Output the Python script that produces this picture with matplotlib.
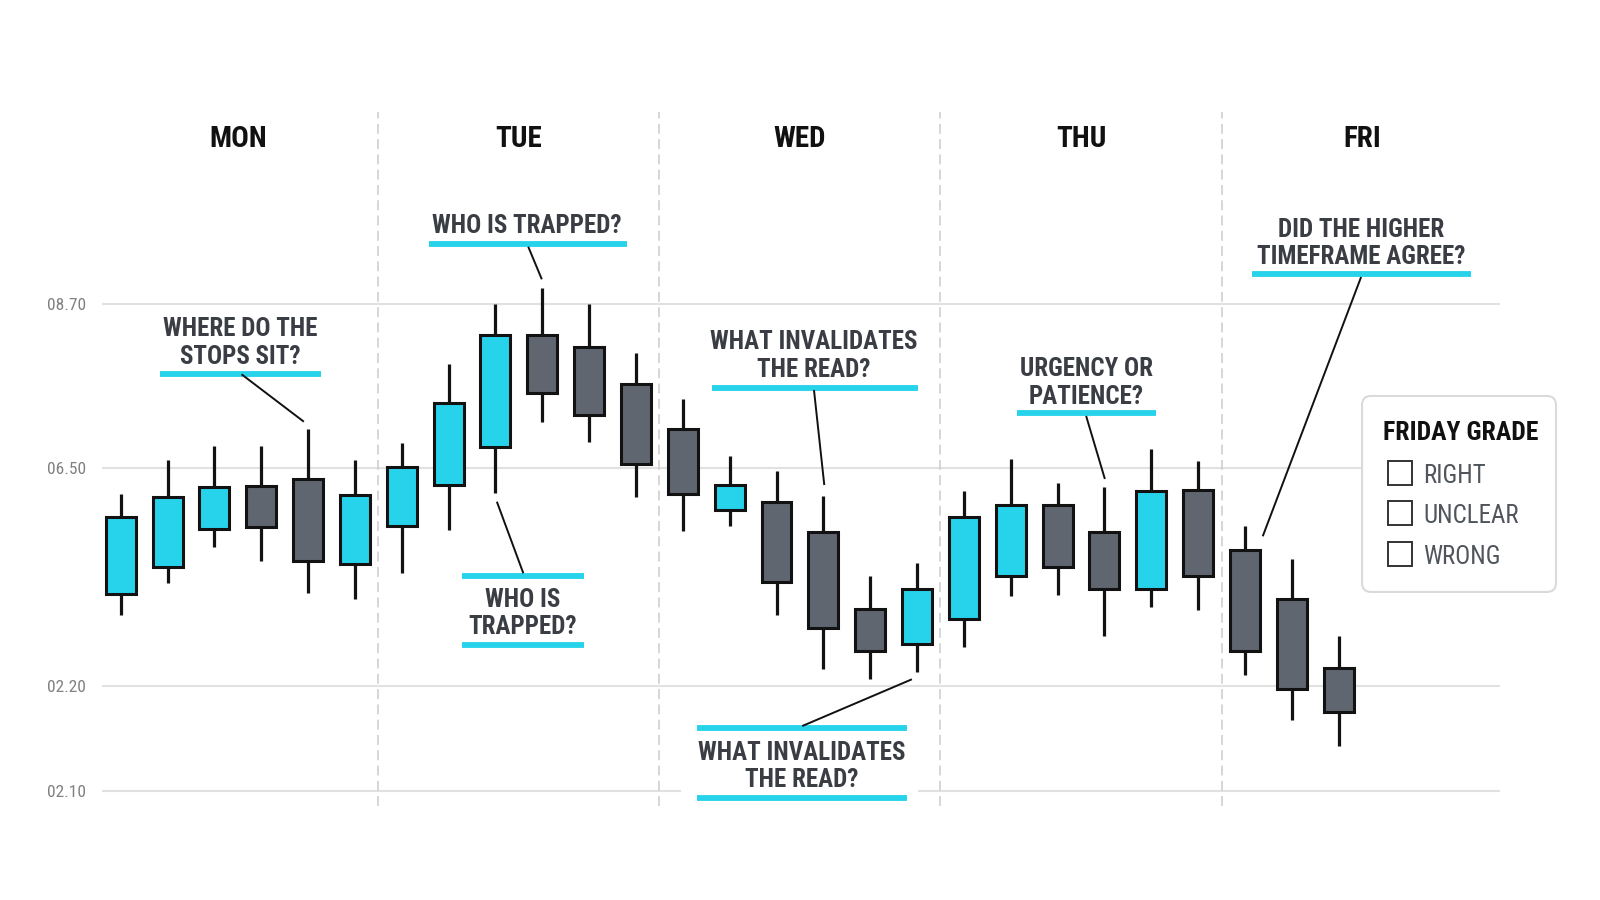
import matplotlib
matplotlib.use("Agg")
import matplotlib.pyplot as plt
from matplotlib import font_manager
from matplotlib.patches import FancyBboxPatch, Rectangle

# ---------------- data ----------------
days = ["MON", "TUE", "WED", "THU", "FRI"]
day_slot = 6  # candles per day slot
opens  = [4.80, 5.16, 5.67, 6.25, 6.35, 5.20,
          5.71, 6.27, 6.78, 8.28, 8.12, 7.63,
          7.02, 5.93, 6.04, 5.64, 4.60, 4.13,
          4.47, 5.05, 6.00, 5.63, 4.87, 6.20,
          5.40, 4.73, 3.81]
closes = [5.84, 6.10, 6.24, 5.70, 5.25, 6.13,
          6.51, 7.37, 8.28, 7.51, 7.21, 6.55,
          6.14, 6.27, 4.96, 4.35, 4.03, 4.87,
          5.84, 6.00, 5.16, 4.87, 6.19, 5.05,
          4.03, 3.53, 3.22]
highs  = [6.15, 6.61, 6.79, 6.79, 7.02, 6.60,
          6.83, 7.90, 8.70, 8.92, 8.70, 8.04,
          7.42, 6.66, 6.45, 6.12, 5.04, 5.22,
          6.19, 6.62, 6.30, 6.24, 6.75, 6.59,
          5.71, 5.27, 4.24]
lows   = [4.52, 4.95, 5.43, 5.24, 4.81, 4.73,
          5.08, 5.66, 6.16, 7.12, 6.85, 6.11,
          5.65, 5.72, 4.52, 3.79, 3.66, 3.76,
          4.09, 4.78, 4.79, 4.24, 4.63, 4.59,
          3.71, 3.11, 2.76]
ytick_pos = [8.70, 6.50, 3.57, 2.16]
ytick_labels = ["08.70", "06.50", "02.20", "02.10"]
grade_title = "FRIDAY GRADE"
grade_options = ["RIGHT", "UNCLEAR", "WRONG"]

# annotation layout: text, text centre, underline ys, underline x-range, leader start/end
annotations = [
    ("WHERE DO THE\nSTOPS SIT?", (2.55, 8.216), [7.755], (0.84, 4.27), ((2.58, 7.755), (3.91, 7.118))),
    ("WHO IS TRAPPED?", (8.67, 9.789), [9.503], (6.58, 10.80), ((8.70, 9.47), (8.99, 9.032))),
    ("WHO IS\nTRAPPED?", (8.59, 4.581), [5.044, 4.117], (7.29, 9.89), ((8.03, 6.043), (8.595, 5.081))),
    ("WHAT INVALIDATES\nTHE READ?", (14.80, 8.042), [7.567], (12.62, 17.01), ((14.80, 7.544), (15.02, 6.267))),
    ("WHAT INVALIDATES\nTHE READ?", (14.54, 2.521), [2.997, 2.064], (12.30, 16.78), ((16.89, 3.656), (14.55, 3.028))),
    ("URGENCY OR\nPATIENCE?", (20.61, 7.679), [7.231], (19.14, 22.10), ((20.61, 7.195), (21.01, 6.348))),
    ("DID THE HIGHER\nTIMEFRAME AGREE?", (26.48, 9.558), [9.098], (24.15, 28.82), ((26.48, 9.063), (24.38, 5.578))),
]

# ---------------- style ----------------
available = {f.name for f in font_manager.fontManager.ttflist}
font = next((f for f in ["Liberation Sans Narrow", "Roboto Condensed", "Roboto", "DejaVu Sans"]
             if f in available), "DejaVu Sans")
plt.rcParams["font.family"] = [font, "DejaVu Sans"]

CYAN = "#27d3ea"
GRAY = "#60666f"
EDGE = "#121212"
TXT = "#3a3e44"

W, H = 1600, 900
fig = plt.figure(figsize=(16, 9), dpi=100)
ax = fig.add_axes([0, 0, 1, 1])
xlim = (-2.577, 31.58)
ylim = (0.6895, 12.786)
ax.set_xlim(*xlim)
ax.set_ylim(*ylim)
px_x = W / (xlim[1] - xlim[0])   # pixels per x unit
px_y = H / (ylim[1] - ylim[0])   # pixels per y unit
dy_txt = 3 / px_y                 # small downward nudge for text centres
for s in ax.spines.values():
    s.set_visible(False)
ax.set_xticks([])
ax.set_yticks(ytick_pos)
ax.set_yticklabels(ytick_labels)
ax.tick_params(axis="y", length=0, pad=-62, labelsize=12.5, labelcolor="#808080")

# gridlines
ax.hlines(ytick_pos, -0.4, 29.45, color="#e1e1e1", lw=1.5, zorder=1)

# day dividers and headers
n = len(opens)
for d, day in enumerate(days):
    ax.text(d * day_slot + 2.5, 10.962 - dy_txt, day, ha="center", va="center",
            fontsize=21, fontweight="bold", color="#111111", zorder=5)
    if d > 0:
        ax.vlines(d * day_slot - 0.5, 1.95, 11.28, color="#cccccc", lw=1.1,
                  linestyle=(0, (6.5, 3.5)), zorder=1)

# candles
xs = list(range(n))
ax.vlines(xs, lows, highs, color=EDGE, lw=2.3, zorder=3)
bottoms = [min(o, c) for o, c in zip(opens, closes)]
heights = [abs(c - o) for o, c in zip(opens, closes)]
colors = [CYAN if c >= o else GRAY for o, c in zip(opens, closes)]
ax.bar(xs, heights, bottom=bottoms, width=0.64, color=colors, edgecolor=EDGE,
       linewidth=2.2, zorder=4)

# annotations
for i, (txt, (tx, ty), uys, (x0, x1), (p0, p1)) in enumerate(annotations):
    if len(uys) == 2:
        # mask the gridline behind boxed labels
        ax.add_patch(Rectangle((x0 - 0.33, min(uys)), (x1 - x0) + 0.57, abs(uys[0] - uys[1]),
                               facecolor="white", edgecolor="none", zorder=2))
    ax.text(tx, ty - dy_txt, txt, ha="center", va="center", fontsize=18, fontweight="bold",
            color=TXT, linespacing=1.17, zorder=6)
    ax.hlines(uys, x0, x1, color=CYAN, lw=4.2, capstyle="butt", zorder=6)
    ax.plot([p0[0], p1[0]], [p0[1], p1[1]], color="#111111", lw=1.4, zorder=6,
            solid_capstyle="butt")

# Friday grade box
bx0, bx1, by0, by1 = 26.50, 30.64, 4.83, 7.464
box = FancyBboxPatch((bx0, by0), bx1 - bx0, by1 - by0,
                     boxstyle="round,pad=0,rounding_size=%.4f" % (9 / px_x),
                     mutation_aspect=px_x / px_y,
                     facecolor="white", edgecolor="#dadada", lw=1.5, zorder=7)
ax.add_patch(box)
ax.text(26.95, 7.007 - dy_txt, grade_title, ha="left", va="center", fontsize=18.5,
        fontweight="bold", color="#111111", zorder=8)
cb_w, cb_h = 24 / px_x, 24 / px_y
for yy, lab in zip([6.435, 5.891, 5.34], grade_options):
    ax.add_patch(Rectangle((27.06, yy - cb_h / 2), cb_w, cb_h, facecolor="none",
                           edgecolor="#333333", lw=1.4, zorder=8))
    ax.text(27.80, yy - dy_txt, lab, ha="left", va="center", fontsize=18, color="#50555b", zorder=8)

fig.savefig("out.png", dpi=100, facecolor="white")
